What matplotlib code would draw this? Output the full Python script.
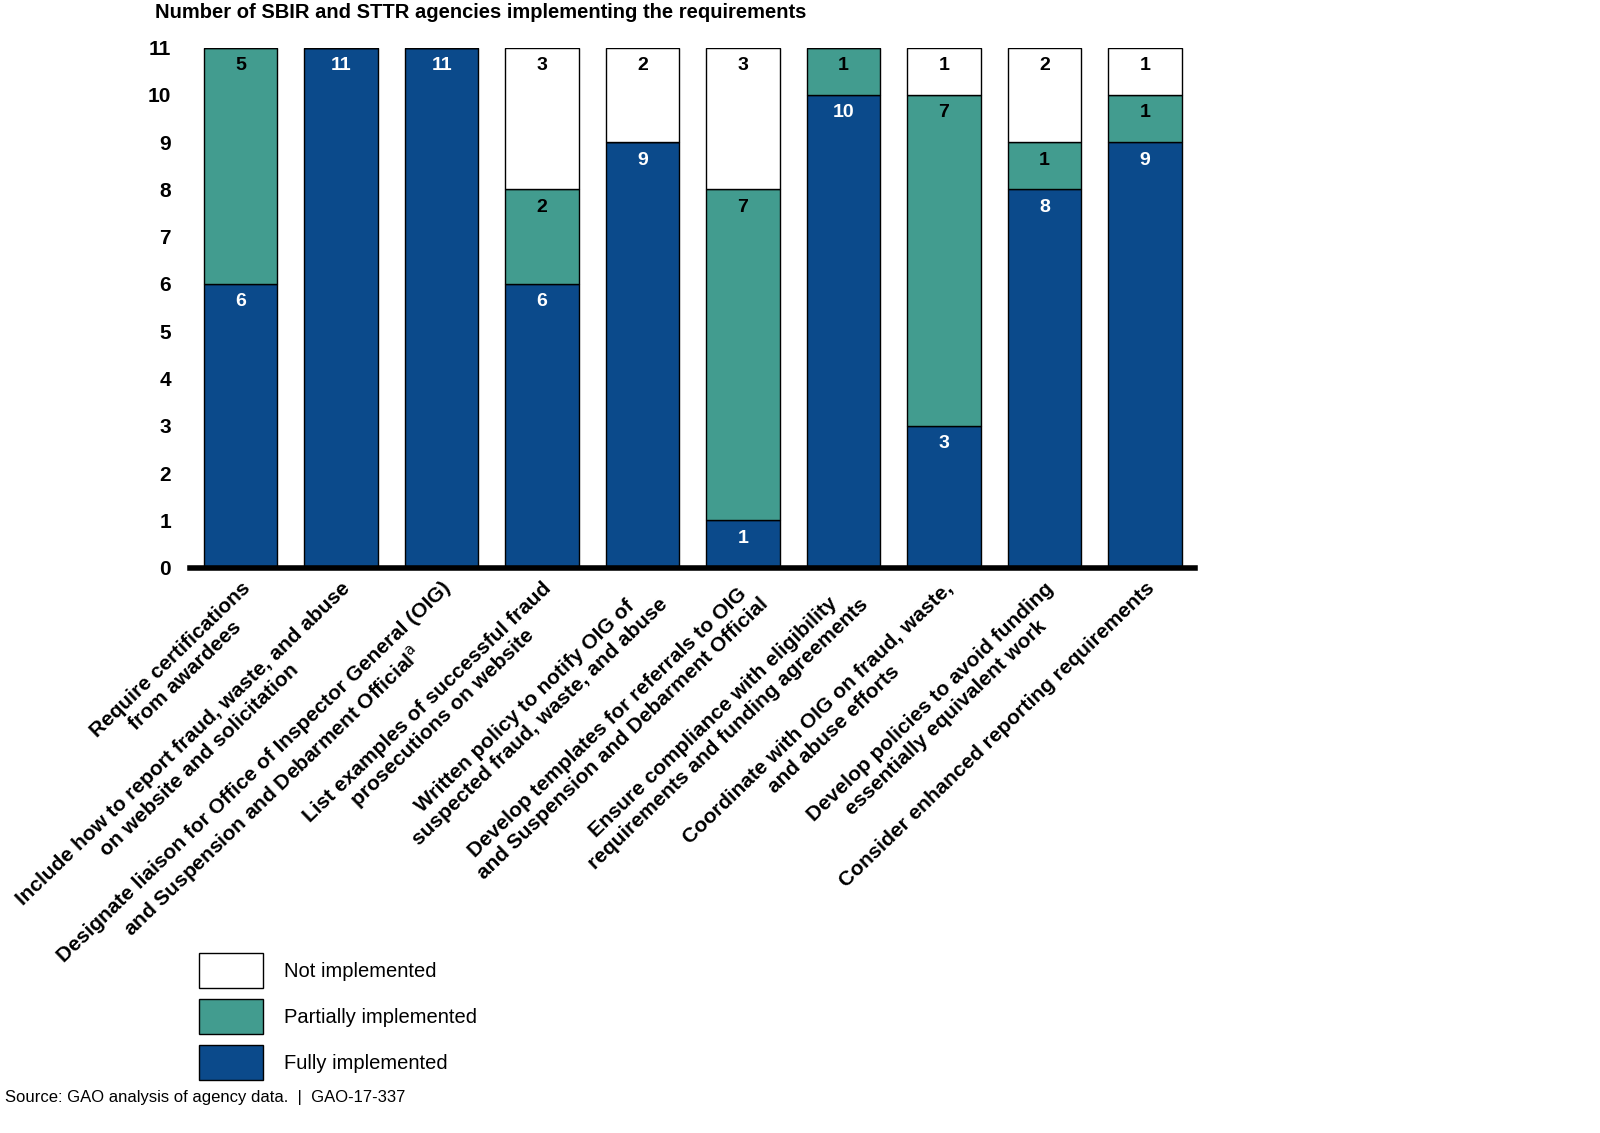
import numpy as np
import matplotlib.pyplot as plt
from matplotlib.patches import Patch

plt.rcParams['font.family'] = ['Liberation Sans', 'DejaVu Sans']

categories = [
    "Require certifications\nfrom awardees",
    "Include how to report fraud, waste, and abuse\non website and solicitation",
    "Designate liaison for Office of Inspector General (OIG)\nand Suspension and Debarment Official$^{\\mathrm{a}}$",
    "List examples of successful fraud\nprosecutions on website",
    "Written policy to notify OIG of\nsuspected fraud, waste, and abuse",
    "Develop templates for referrals to OIG\nand Suspension and Debarment Official",
    "Ensure compliance with eligibility\nrequirements and funding agreements",
    "Coordinate with OIG on fraud, waste,\nand abuse efforts",
    "Develop policies to avoid funding\nessentially equivalent work",
    "Consider enhanced reporting requirements",
]
fully = [6, 11, 11, 6, 9, 1, 10, 3, 8, 9]
partial = [5, 0, 0, 2, 0, 7, 1, 7, 1, 1]
notimpl = [0, 0, 0, 3, 2, 3, 0, 1, 2, 1]

blue = "#0B4A8B"
teal = "#429C8F"

fig = plt.figure(figsize=(16, 11.33), dpi=100)
ax = fig.add_axes([0.119, 0.499, 0.628, 0.459])

x = np.arange(len(categories))
w = 0.73
f = np.array(fully); p = np.array(partial); n = np.array(notimpl)
ax.bar(x, f, w, color=blue, edgecolor="black", linewidth=1)
ax.bar(x, p, w, bottom=f, color=teal, edgecolor="black", linewidth=1)
ax.bar(x, n, w, bottom=f + p, color="white", edgecolor="black", linewidth=1)

for i in range(len(x)):
    segs = [(f[i], 0, "white"), (p[i], f[i], "black"), (n[i], f[i] + p[i], "black")]
    for val, base, col in segs:
        if val > 0:
            ax.text(x[i], base + val - 0.38, str(val), ha="center", va="center",
                    color=col, fontsize=14, fontweight="bold")

ax.set_xlim(-0.5, 9.5)
ax.set_ylim(0, 11)
ax.set_yticks(range(12))
ax.tick_params(axis="y", length=0, labelsize=15, pad=14)
for t in ax.get_yticklabels():
    t.set_fontweight("bold")
ax.set_xticks(x)
ax.set_xticklabels(categories, rotation=44, ha="right", rotation_mode="anchor",
                   fontsize=15, fontweight="bold", multialignment="center")
ax.tick_params(axis="x", length=0, pad=8)
for s in ["top", "right", "left"]:
    ax.spines[s].set_visible(False)
ax.spines["bottom"].set_linewidth(4)

fig.text(0.097, 0.989, "Number of SBIR and STTR agencies implementing the requirements",
         fontsize=14.5, fontweight="bold", va="center")

handles = [Patch(facecolor="white", edgecolor="black"),
           Patch(facecolor=teal, edgecolor="black"),
           Patch(facecolor=blue, edgecolor="black")]
fig.legend(handles, ["Not implemented", "Partially implemented", "Fully implemented"],
           loc="upper left", bbox_to_anchor=(0.113, 0.175), frameon=False,
           fontsize=14.5, handlelength=3.2, handleheight=2.3, labelspacing=0.55,
           handletextpad=1.0)

fig.text(0.003, 0.031, "Source: GAO analysis of agency data.  |  GAO-17-337",
         fontsize=12, va="center")

fig.savefig("out.png", dpi=100)
